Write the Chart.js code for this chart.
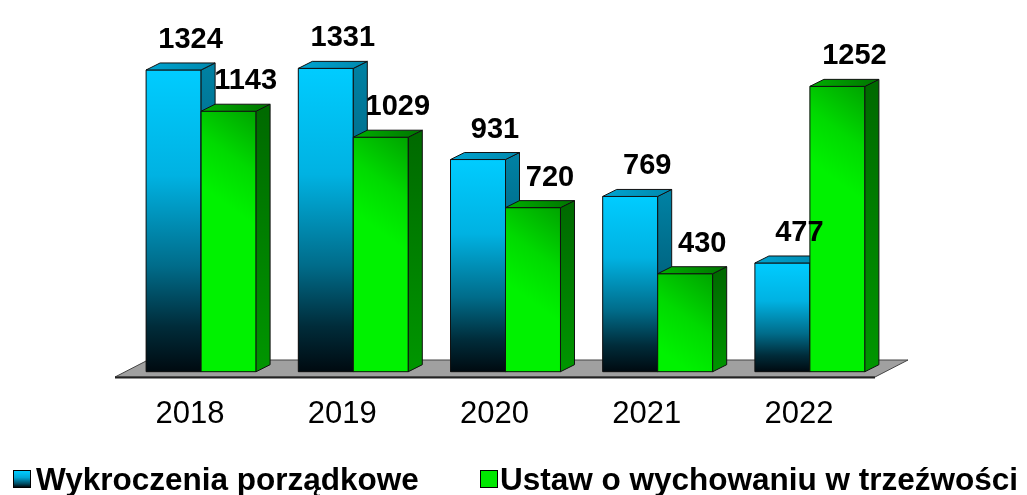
<!DOCTYPE html>
<html>
<head>
<meta charset="utf-8">
<script src="https://cdn.jsdelivr.net/npm/chart.js@4/dist/chart.umd.min.js"></script>
<style>
html,body{margin:0;padding:0;background:#fff;overflow:hidden;}
#wrap{position:relative;width:1027px;height:495px;}
#legend{position:absolute;left:0;top:0;width:1027px;height:495px;pointer-events:none;
  font-family:"Liberation Sans", Arial, sans-serif;font-weight:bold;font-size:31.5px;line-height:31px;color:#000;}
#legend .box{position:absolute;width:16px;height:16px;border:1px solid #000;}
#legend .txt{position:absolute;white-space:nowrap;}
</style>
</head>
<body>
<div id="wrap"><canvas id="c" width="1027" height="495"></canvas><div id="legend"></div></div>
<script>
const categories = ['2018', '2019', '2020', '2021', '2022'];
const seriesNames = ['Wykroczenia porządkowe', 'Ustaw o wychowaniu w trzeźwości'];
const wykroczenia = [1324, 1331, 931, 769, 477];
const ustawa = [1143, 1029, 720, 430, 1252];

const FONT = '"Liberation Sans", Arial, sans-serif';
const DX = 14, DY = -7;           // bar depth
const FDX = 33, FDY = -17;        // floor depth

function blueGrad(ctx, yT, yB) {
  const g = ctx.createLinearGradient(0, yT, 0, yB);
  g.addColorStop(0, '#00CCFF');
  g.addColorStop(0.35, '#00B2E2');
  g.addColorStop(0.65, '#006C8A');
  g.addColorStop(0.85, '#002C3A');
  g.addColorStop(1, '#000A10');
  return g;
}
function greenGrad(ctx, x0, x1, yT, yB) {
  const g = ctx.createLinearGradient(x1, yT, x0, yT + 75);
  g.addColorStop(0, '#00A400');
  g.addColorStop(0.55, '#00DA00');
  g.addColorStop(1, '#00F200');
  return g;
}
function barGeom(chart, d, i) {
  const xs = chart.scales.x, ys = chart.scales.y;
  const cw = xs.width / categories.length;
  const w = cw * chart.options.datasets.bar.categoryPercentage / 2;
  const c = xs.getPixelForValue(i);
  const x0 = d === 0 ? c - w : c;
  const v = d === 0 ? wykroczenia[i] : ustawa[i];
  return { x0, x1: x0 + w, yT: ys.getPixelForValue(v), yB: ys.getPixelForValue(0) };
}
function scriptColor(d) {
  return (ctx) => {
    const chart = ctx.chart;
    if (!chart.chartArea || ctx.type !== 'data') return d === 0 ? '#00B0E0' : '#00E000';
    const g = barGeom(chart, d, ctx.dataIndex);
    return d === 0 ? blueGrad(chart.ctx, g.yT, g.yB) : greenGrad(chart.ctx, g.x0, g.x1, g.yT, g.yB);
  };
}

function poly(ctx, pts, fill, stroke) {
  ctx.beginPath();
  ctx.moveTo(pts[0][0], pts[0][1]);
  for (let k = 1; k < pts.length; k++) ctx.lineTo(pts[k][0], pts[k][1]);
  ctx.closePath();
  ctx.fillStyle = fill;
  ctx.fill();
  if (stroke) { ctx.strokeStyle = stroke; ctx.lineWidth = 1; ctx.stroke(); }
}

const bars3d = {
  id: 'bars3d',
  beforeDatasetsDraw(chart) {
    const ctx = chart.ctx, a = chart.chartArea;
    const B = a.bottom;
    const fl = a.left - 10, fr = a.right - 11, fy = B + 5.3;
    ctx.save();
    poly(ctx, [[fl, fy], [fr, fy], [fr + FDX, fy + FDY], [fl + FDX, fy + FDY]], '#A0A0A0', '#444');
    ctx.beginPath();
    ctx.moveTo(fl, fy + 0.5); ctx.lineTo(fr, fy + 0.5);
    ctx.lineWidth = 2; ctx.strokeStyle = '#222'; ctx.stroke();
    ctx.restore();
  },
  afterDatasetsDraw(chart) {
    const ctx = chart.ctx;
    const metas = [chart.getDatasetMeta(0), chart.getDatasetMeta(1)];
    ctx.save();
    ctx.lineJoin = 'miter';
    for (let i = 0; i < categories.length; i++) {
      for (let d = 0; d < 2; d++) {
        const el = metas[d].data[i];
        const p = el.getProps(['x', 'y', 'base', 'width'], true);
        const x0 = p.x - p.width / 2, x1 = p.x + p.width / 2, yT = p.y, yB = p.base;
        const front = d === 0 ? blueGrad(ctx, yT, yB) : greenGrad(ctx, x0, x1, yT, yB);
        poly(ctx, [[x0, yT], [x1, yT], [x1, yB], [x0, yB]], front, '#111');
        let side, top;
        if (d === 0) {
          side = ctx.createLinearGradient(0, yT, 0, yB);
          side.addColorStop(0, '#0080A2'); side.addColorStop(0.5, '#00627E'); side.addColorStop(1, '#001018');
          top = ctx.createLinearGradient(x0, 0, x1 + DX, 0);
          top.addColorStop(0, '#00A4D0'); top.addColorStop(1, '#0088AE');
        } else {
          side = ctx.createLinearGradient(0, yT, 0, yB);
          side.addColorStop(0, '#006A00'); side.addColorStop(1, '#009600');
          top = ctx.createLinearGradient(x0, 0, x1 + DX, 0);
          top.addColorStop(0, '#00B000'); top.addColorStop(1, '#007400');
        }
        poly(ctx, [[x1, yB], [x1 + DX, yB + DY], [x1 + DX, yT + DY], [x1, yT]], side, '#111');
        poly(ctx, [[x0, yT], [x0 + DX, yT + DY], [x1 + DX, yT + DY], [x1, yT]], top, '#111');
      }
    }
    ctx.fillStyle = '#000';
    ctx.font = 'bold 29px ' + FONT;
    ctx.textAlign = 'center';
    ctx.textBaseline = 'alphabetic';
    for (let d = 0; d < 2; d++) {
      const vals = d === 0 ? wykroczenia : ustawa;
      metas[d].data.forEach((el, i) => {
        const p = el.getProps(['x', 'y'], true);
        ctx.fillText(String(vals[i]), p.x + 17, p.y - 22);
      });
    }
    ctx.restore();
  }
};

// HTML legend (real text)
const legendEl = document.getElementById('legend');
const legendItems = [
  { text: seriesNames[0], bg: 'linear-gradient(to bottom,#00CCFF 0%,#00A8D8 40%,#004A60 80%,#000A10 100%)', boxX: 13, textX: 36 },
  { text: seriesNames[1], bg: '#00E800', boxX: 480, textX: 500 }
];
legendItems.forEach(it => {
  const b = document.createElement('div');
  b.className = 'box';
  b.style.left = it.boxX + 'px'; b.style.top = '470px'; b.style.background = it.bg;
  const t = document.createElement('div');
  t.className = 'txt';
  t.style.left = it.textX + 'px'; t.style.top = '464px';
  t.textContent = it.text;
  legendEl.appendChild(b); legendEl.appendChild(t);
});

new Chart(document.getElementById('c'), {
  type: 'bar',
  data: {
    labels: categories,
    datasets: [
      { label: seriesNames[0], data: wykroczenia, backgroundColor: scriptColor(0), borderWidth: 0 },
      { label: seriesNames[1], data: ustawa, backgroundColor: scriptColor(1), borderWidth: 0 }
    ]
  },
  options: {
    responsive: false,
    devicePixelRatio: 1,
    animation: false,
    datasets: { bar: { barPercentage: 1, categoryPercentage: 0.7227 } },
    layout: { padding: 0 },
    scales: {
      x: {
        grid: { display: false, drawTicks: false },
        border: { display: false },
        ticks: { color: '#000', font: { family: FONT, size: 31 }, padding: 24, labelOffset: -11 },
        afterFit: (s) => { s.height = 123.3; }
      },
      y: {
        min: 0, max: 1631,
        grid: { display: false, drawTicks: false },
        border: { display: false },
        ticks: { display: false },
        afterFit: (s) => { s.width = 125; }
      },
      yR: {
        type: 'linear', position: 'right',
        grid: { display: false, drawTicks: false },
        border: { display: false },
        ticks: { display: false },
        afterFit: (s) => { s.width = 141; }
      }
    },
    plugins: {
      tooltip: { enabled: false },
      legend: { display: false }
    }
  },
  plugins: [bars3d]
});
</script>
</body>
</html>
